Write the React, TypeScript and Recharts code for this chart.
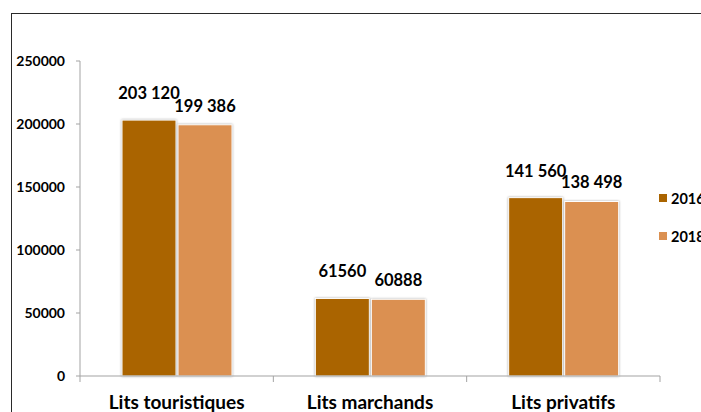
import React from "react";
import { BarChart, Bar, XAxis, YAxis, Legend, LabelList } from "recharts";

const categories = ["Lits touristiques", "Lits marchands", "Lits privatifs"];
const values2016 = [203120, 61560, 141560];
const values2018 = [199386, 60888, 138498];
const labels2016 = ["203 120", "61560", "141 560"];
const labels2018 = ["199 386", "60888", "138 498"];
const series = ["2016", "2018"];
const yTicks = [0, 50000, 100000, 150000, 200000, 250000];

const colors = ["#AA6400", "#DB9051"];
const FONT = "Lato, 'Open Sans', sans-serif";
const AXIS = "#a3a3a3";
// half of one category band (plot is 580px wide, 3 categories)
const HALF_BAND = 580 / 3 / 2;

const data = categories.map((name, i) => ({
  name,
  v2016: values2016[i],
  v2018: values2018[i],
  l2016: labels2016[i],
  l2018: labels2018[i],
}));

const ShadowBar = (props: any) => {
  const { x, y, width, height, fill } = props;
  return (
    <rect
      x={x}
      y={y}
      width={width}
      height={height}
      fill={fill}
      stroke="#fff"
      strokeWidth={1}
      style={{ filter: "drop-shadow(0 0 1.2px rgba(0,0,0,0.35))" }}
    />
  );
};

const makeLabel = (lift: number) => (props: any) => {
  const { x, y, width, value } = props;
  return (
    <text
      x={x + width / 2}
      y={y - lift}
      textAnchor="middle"
      fontFamily={FONT}
      fontWeight={700}
      fontSize={16.5}
      fill="#000"
    >
      {value}
    </text>
  );
};

const CategoryTick = (props: any) => {
  const { x, y, payload, index } = props;
  return (
    <g>
      <line x1={x - HALF_BAND} x2={x - HALF_BAND} y1={y} y2={y + 6} stroke={AXIS} />
      {index === categories.length - 1 && (
        <line x1={x + HALF_BAND} x2={x + HALF_BAND} y1={y} y2={y + 6} stroke={AXIS} />
      )}
      <text x={x} y={y + 33} textAnchor="middle" fontFamily={FONT} fontWeight={700} fontSize={19} fill="#000">
        {payload.value}
      </text>
    </g>
  );
};

const renderLegend = () => (
  <div style={{ fontFamily: FONT, fontWeight: 700, fontSize: 14.5, color: "#000" }}>
    {series.map((s, i) => (
      <div key={s} style={{ display: "flex", alignItems: "center", height: 38, whiteSpace: "nowrap" }}>
        <span style={{ width: 8, height: 8, background: colors[i], marginRight: 4, display: "inline-block" }} />
        <span>{s}</span>
      </div>
    ))}
  </div>
);

export default function App() {
  return (
    <div style={{ position: "absolute", left: 0, top: 0, width: 701, height: 412, overflow: "hidden", background: "#fff" }}>
      <div
        style={{
          position: "absolute",
          left: 11,
          top: 13,
          width: 720,
          height: 430,
          border: "1px solid #2a2a2a",
          boxSizing: "border-box",
        }}
      />
      <div style={{ position: "absolute", left: 0, top: 0 }}>
        <BarChart
          width={701}
          height={412}
          data={data}
          margin={{ top: 61, right: 41, bottom: 0, left: 0 }}
          barSize={54}
          barGap={2}
        >
          <XAxis
            dataKey="name"
            height={36}
            interval={0}
            tickLine={false}
            tickSize={0}
            tickMargin={0}
            axisLine={{ stroke: AXIS }}
            tick={<CategoryTick />}
          />
          <YAxis
            domain={[0, 250000]}
            ticks={yTicks}
            interval={0}
            width={80}
            tickSize={4}
            tickMargin={11}
            axisLine={{ stroke: AXIS }}
            tickLine={{ stroke: AXIS }}
            tick={{ fill: "#000", fontSize: 14, fontWeight: 700, fontFamily: FONT }}
          />
          <Legend
            layout="horizontal"
            align="center"
            verticalAlign="middle"
            content={renderLegend}
            wrapperStyle={{ left: 659, top: 179, width: 60 }}
          />
          <Bar dataKey="v2016" name={series[0]} fill={colors[0]} shape={<ShadowBar />} isAnimationActive={false}>
            <LabelList dataKey="l2016" content={makeLabel(21)} />
          </Bar>
          <Bar dataKey="v2018" name={series[1]} fill={colors[1]} shape={<ShadowBar />} isAnimationActive={false}>
            <LabelList dataKey="l2018" content={makeLabel(13)} />
          </Bar>
        </BarChart>
      </div>
    </div>
  );
}
